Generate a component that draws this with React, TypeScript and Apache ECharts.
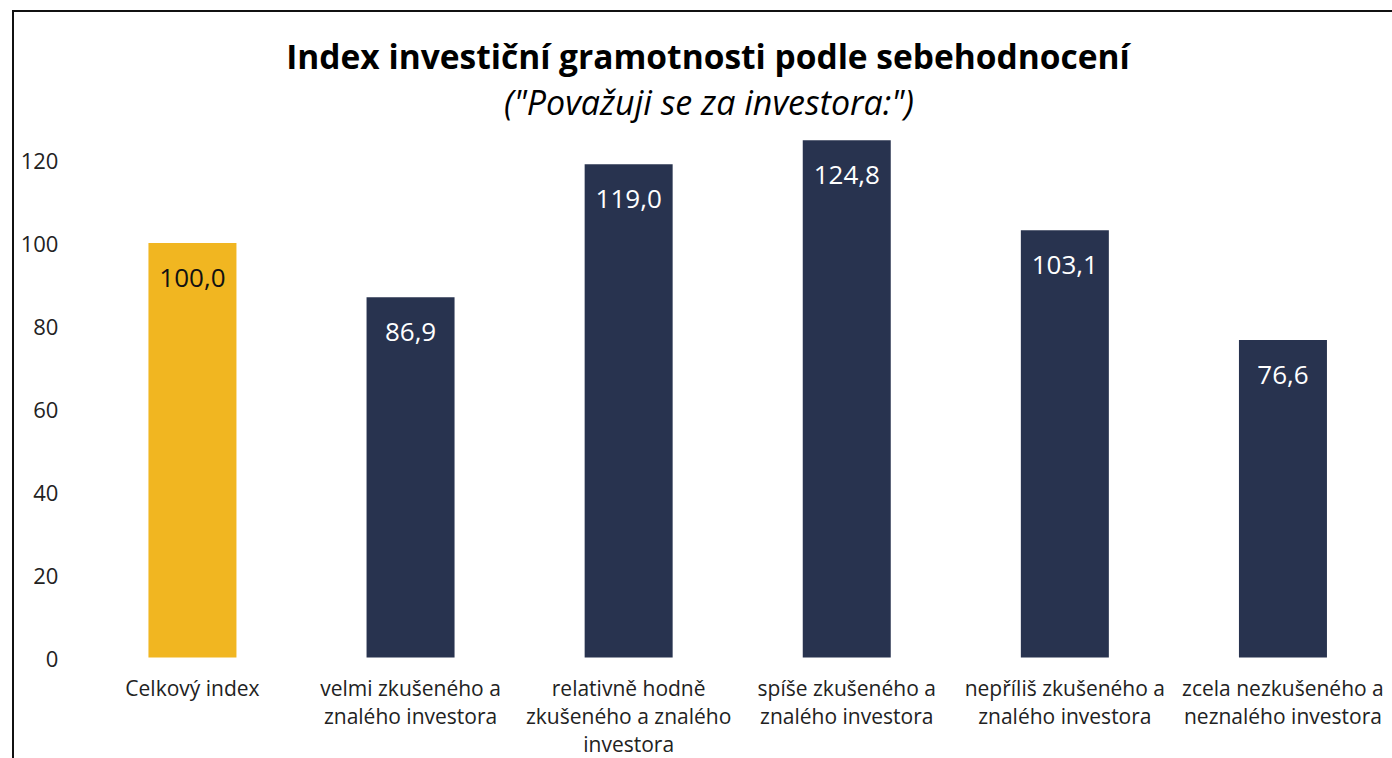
import React, { useEffect, useRef } from "react";
import * as echarts from "echarts";

const categories = [
  "Celkový index",
  "velmi zkušeného a\nznalého investora",
  "relativně hodně\nzkušeného a znalého\ninvestora",
  "spíše zkušeného a\nznalého investora",
  "nepříliš zkušeného a\nznalého investora",
  "zcela nezkušeného a\nneznalého investora",
];
const values = [100.0, 86.9, 119.0, 124.8, 103.1, 76.6];
const yTicks = [0, 20, 40, 60, 80, 100, 120];

const titleText = "Index investiční gramotnosti podle sebehodnocení";
const subtitleText = '("Považuji se za investora:")';

const YELLOW = "#F1B621";
const NAVY = "#28334F";

export default function App() {
  const ref = useRef<HTMLDivElement>(null);
  useEffect(() => {
    if (!ref.current) return;
    const chart = echarts.init(ref.current, null, { renderer: "svg" });
    chart.setOption({
      animation: false,
      backgroundColor: "#ffffff",
      textStyle: { fontFamily: "Open Sans" },
      graphic: [
        {
          type: "rect",
          shape: { x: 13, y: 11, width: 1600, height: 1000 },
          style: { fill: "none", stroke: "#111", lineWidth: 2 },
          silent: true,
        },
        {
          type: "text",
          x: 708,
          y: 56,
          style: {
            text: titleText,
            fontFamily: "Open Sans",
            fontWeight: "bold",
            fontSize: 33.5,
            fill: "#000",
            align: "center",
            verticalAlign: "middle",
          },
        },
        {
          type: "text",
          x: 709,
          y: 102,
          style: {
            text: subtitleText,
            fontFamily: "Open Sans",
            fontStyle: "italic",
            fontSize: 34,
            fill: "#000",
            align: "center",
            verticalAlign: "middle",
          },
        },
      ],
      grid: { left: 83.4, right: -7.2, top: 77.2, bottom: 100.5, containLabel: false },
      xAxis: {
        type: "category",
        data: categories,
        axisLine: { show: false },
        axisTick: { show: false },
        axisLabel: {
          interval: 0,
          margin: 16,
          fontSize: 21,
          lineHeight: 28,
          color: "#222",
          fontFamily: "Open Sans",
        },
      },
      yAxis: {
        type: "value",
        min: 0,
        max: 140,
        interval: 20,
        splitLine: { show: false },
        axisLine: { show: false },
        axisTick: { show: false },
        axisLabel: {
          margin: 25,
          fontSize: 22,
          color: "#222",
          fontFamily: "Open Sans",
          formatter: (v: number) => (yTicks.includes(v) ? String(v) : ""),
        },
      },
      series: [
        {
          type: "bar",
          barWidth: 88,
          data: values.map((v, i) => ({
            value: v,
            itemStyle: { color: i === 0 ? YELLOW : NAVY },
            label: { color: i === 0 ? "#111" : "#fff" },
          })),
          label: {
            show: true,
            position: "insideTop",
            distance: 21,
            fontSize: 26,
            fontFamily: "Open Sans",
            formatter: (p: any) => p.value.toFixed(1).replace(".", ","),
          },
        },
      ],
    });
    return () => chart.dispose();
  }, []);
  return (
    <div
      ref={ref}
      style={{ position: "fixed", left: 0, top: 0, width: 1392, height: 758 }}
    />
  );
}
